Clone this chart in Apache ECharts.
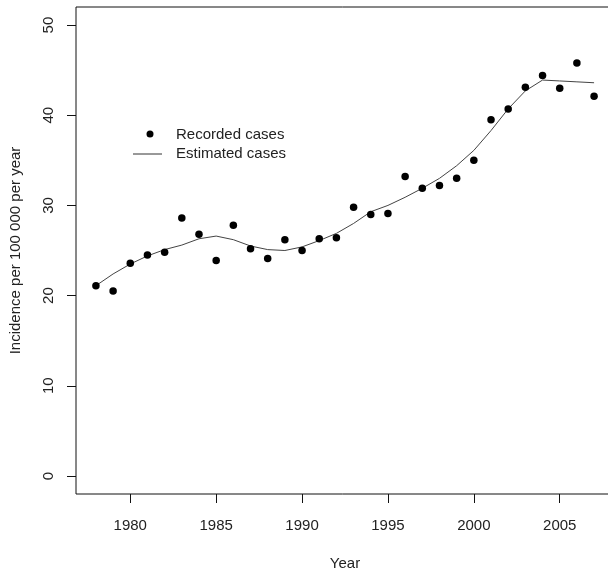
<!DOCTYPE html>
<html>
<head>
<meta charset="utf-8">
<script src="https://cdn.jsdelivr.net/npm/echarts@6/dist/echarts.min.js"></script>
<style>
html,body{margin:0;padding:0;background:#fff;}
#chart{width:608px;height:569px;}
</style>
</head>
<body>
<div id="chart"></div>
<script>
var years = [1978,1979,1980,1981,1982,1983,1984,1985,1986,1987,1988,1989,1990,1991,1992,1993,1994,1995,1996,1997,1998,1999,2000,2001,2002,2003,2004,2005,2006,2007];
var recorded = [21.1,20.5,23.6,24.5,24.8,28.6,26.8,23.9,27.8,25.2,24.1,26.2,25.0,26.3,26.4,29.8,29.0,29.1,33.2,31.9,32.2,33.0,35.0,39.5,40.7,43.1,44.4,43.0,45.8,42.1];
var estimated = [21.1,22.4,23.5,24.4,25.1,25.6,26.3,26.6,26.2,25.5,25.1,25.0,25.4,26.1,26.9,28.0,29.3,30.0,30.9,31.9,33.0,34.4,36.1,38.3,40.7,42.7,43.9,43.8,43.7,43.6];
var xTicks = [1980,1985,1990,1995,2000,2005];
var yTicks = [0,10,20,30,40,50];
var xTitle = 'Year';
var yTitle = 'Incidence per 100 000 per year';
var legendLabels = ['Recorded cases','Estimated cases'];

var font = 'Liberation Sans, Arial, sans-serif';
var chart = echarts.init(document.getElementById('chart'), null, {renderer:'canvas'});
chart.setOption({
  animation:false,
  backgroundColor:'#fff',
  grid:{left:76, top:7, width:538, height:487, outerBoundsMode:'none', containLabel:false,
        show:true, borderColor:'#111', borderWidth:1, backgroundColor:'transparent'},
  xAxis:{
    type:'value', min:1976.84, max:2008.16,
    name:xTitle, nameLocation:'middle', nameGap:62,
    nameTextStyle:{fontFamily:font, fontSize:15, color:'#222'},
    axisLine:{show:false, onZero:false},
    axisTick:{show:true, inside:false, length:9, lineStyle:{color:'#111'}, customValues:xTicks},
    axisLabel:{show:true, margin:24, fontFamily:font, fontSize:15, color:'#222', customValues:xTicks,
      formatter:function(v){return String(Math.round(v));}},
    splitLine:{show:false}
  },
  yAxis:{
    type:'value', min:-2, max:52,
    name:yTitle, nameLocation:'middle', nameGap:53, nameRotate:90,
    nameTextStyle:{fontFamily:font, fontSize:15, color:'#222'},
    axisLine:{show:false, onZero:false},
    axisTick:{show:true, inside:false, length:9, lineStyle:{color:'#111'}, customValues:yTicks},
    axisLabel:{show:true, margin:20, rotate:90, fontFamily:font, fontSize:15, color:'#222', customValues:yTicks,
      formatter:function(v){return String(Math.round(v));}},
    splitLine:{show:false}
  },
  series:[
    {name:legendLabels[1], type:'line', data:years.map(function(y,i){return [y, estimated[i]];}),
     showSymbol:false, symbol:'none', smooth:false, lineStyle:{color:'#444', width:1}, z:2},
    {name:legendLabels[0], type:'scatter', data:years.map(function(y,i){return [y, recorded[i]];}),
     symbol:'circle', symbolSize:7.5, itemStyle:{color:'#000', opacity:1}, z:3}
  ],
  graphic:[
    {type:'circle', shape:{cx:150, cy:134, r:3.5}, style:{fill:'#000'}},
    {type:'line', shape:{x1:133, y1:154, x2:162, y2:154}, style:{stroke:'#333', lineWidth:1}},
    {type:'text', x:176, y:135, style:{text:legendLabels[0], font:'15px '+font, fill:'#222', textVerticalAlign:'middle', verticalAlign:'middle'}},
    {type:'text', x:176, y:154, style:{text:legendLabels[1], font:'15px '+font, fill:'#222', textVerticalAlign:'middle', verticalAlign:'middle'}}
  ]
});
</script>
</body>
</html>
